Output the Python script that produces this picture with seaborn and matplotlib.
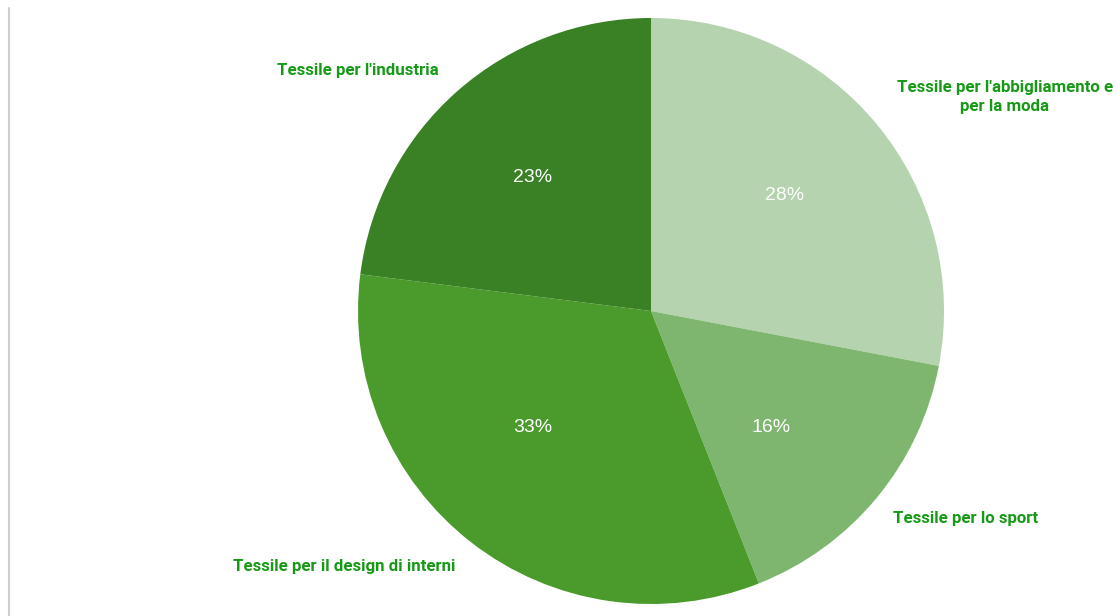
import matplotlib
matplotlib.use("Agg")
import matplotlib.pyplot as plt
import seaborn as sns

# Share of the textile sector by end use
categories = [
    "Tessile per l'abbigliamento e\nper la moda",
    "Tessile per lo sport",
    "Tessile per il design di interni",
    "Tessile per l'industria",
]
shares = [28, 16, 33, 23]
slice_colors = ["#b4d3ae", "#7fb66f", "#4a9b2c", "#3a8024"]

sns.set_theme(style="white")
plt.rcParams["font.family"] = ["Liberation Sans", "DejaVu Sans"]

W, H, DPI = 1117, 616, 100
fig = plt.figure(figsize=(W / DPI, H / DPI), dpi=DPI)
fig.patch.set_facecolor("white")

# pie centre and radius in pixels
cx, cy, r = 651, 311, 293
ax = fig.add_axes([(cx - r) / W, (H - cy - r) / H, 2 * r / W, 2 * r / H])
ax.set_aspect("equal")
ax.axis("off")

wedges, _, autotexts = ax.pie(
    shares,
    colors=slice_colors,
    startangle=90,
    counterclock=False,
    radius=1,
    autopct="%d%%",
    pctdistance=0.6,
    wedgeprops=dict(linewidth=0),
    textprops=dict(color="white", fontsize=14),
)
ax.set_xlim(-1, 1)
ax.set_ylim(-1, 1)


def to_data(px, py):
    return (px - cx) / r, (cy - py) / r


# percentage labels, nudged inside their slices
pct_px = [(785, 195), (771, 427), (533, 427), (533, 178)]
for t, (px, py) in zip(autotexts, pct_px):
    t.set_position(to_data(px, py))

# category labels placed around the pie
label_px = [(1005, 97), (966, 518), (344, 567), (358, 70)]
for text, (px, py) in zip(categories, label_px):
    ax.text(*to_data(px, py), text, ha="center", va="center",
            color="#169a16", fontsize=12.2, fontweight="bold",
            family=["Roboto", "DejaVu Sans"], linespacing=1.3, clip_on=False)

# thin frame line on the left edge
fig.add_artist(plt.Line2D([8.5 / W, 8.5 / W], [0, 1 - 8 / H],
                          transform=fig.transFigure, color="#cfcfcf", linewidth=1.5))

fig.savefig("out.png", dpi=DPI, facecolor="white")
